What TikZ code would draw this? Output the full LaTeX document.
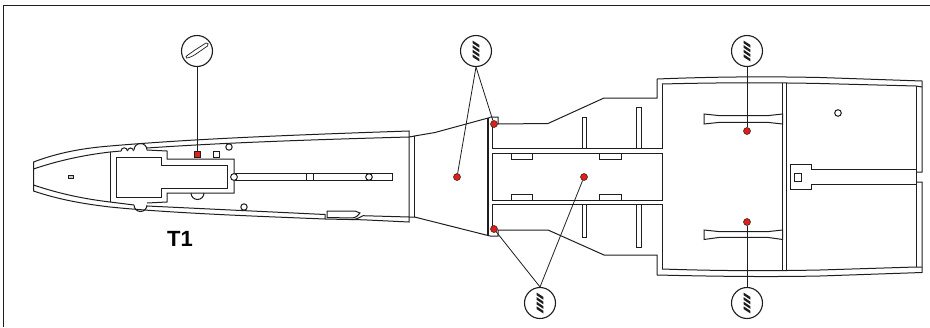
\documentclass[tikz,border=0pt]{standalone}
\usepackage{fontspec}
\setmainfont{Liberation Sans}
\usetikzlibrary{calc}
\definecolor{markred}{RGB}{224,32,24}
\definecolor{inkline}{RGB}{30,30,30}
\tikzset{
    outline/.style={draw=inkline, line width=1pt, line join=miter},
    leader/.style={draw=inkline, line width=0.8pt},
    iconring/.style={circle, draw=inkline, line width=1.1pt, fill=white, minimum size=31pt, inner sep=0pt},
    reddot/.style={circle, draw=inkline, line width=0.5pt, fill=markred, minimum size=7pt, inner sep=0pt},
    redsquare/.style={rectangle, draw=inkline, line width=0.5pt, fill=markred, minimum size=5.5pt, inner sep=0pt},
    hole/.style={outline, fill=white}
}
% slanted bands of the drill symbol
\newcommand{\drillbands}[1]{
    \foreach \k in {0,1,2,3}
        \fill[inkline] ($(#1)+(-3.4,-10.5+4.6*\k)$) -- ++(6.8,4.5) -- ++(0,2.7) -- ++(-6.8,-4.5) -- cycle;
}
\begin{document}
\begin{tikzpicture}[x=1pt,y=-1pt]
    \useasboundingbox (0,0) rectangle (930,327);

    % frame
    \draw[leader, line width=1pt] (3.5,327) -- (3.5,5.5) -- (930,5.5);

    % nose, outer and inner skin
    \draw[outline] (33.5,191) -- (33.5,162) .. controls (60,152) and (85,148) .. (110,146) .. controls (180,140) and (260,136) .. (409,131) -- (409,222) -- (363,219.8) -- (325,219) .. controls (250,216) and (170,213) .. (110,207) .. controls (85,204) and (60,200) .. cycle;
    \draw[outline] (33.5,169) .. controls (60,160) and (85,155) .. (110,152) -- (121,151) (147,148) .. controls (220,143) and (300,140) .. (409,137) -- (415,136);
    \draw[outline] (33.5,185) .. controls (60,194) and (85,199) .. (110,202) -- (134,205) (147,206) -- (325,214.5) -- (325,219);
    \draw[outline] (363,215.7) -- (409,217) -- (415,217);
    \draw[outline] (110,152) -- (110,202);
    \draw[outline] (414.5,136) -- (414.5,217);

    % small bumps on the upper and lower skin
    \draw[outline] (121,151) arc[start angle=180, end angle=360, radius=3.2];
    \draw[outline] (127.5,151) arc[start angle=180, end angle=360, radius=3];
    \draw[outline] (134,150) arc[start angle=180, end angle=360, radius=6.5];
    \draw[outline] (134,205) arc[start angle=180, end angle=0, radius=6.5];

    % cockpit opening
    \draw[outline] (147,150) -- (167,151) -- (167,159) -- (234,159) -- (234,193) -- (167,193) -- (167,202) -- (147,203);
    \draw[outline] (116,157) -- (161,157) -- (161,165) -- (227,165) -- (227,188) -- (161,188) -- (161,197) -- (116,197) -- cycle;
    \draw[outline] (191,193) arc[start angle=180, end angle=0, radius=6.5];
    \draw[outline, fill=gray!40] (68,175.7) rectangle (73,178.5);

    % rod and holes in the front part
    \draw[outline] (235,173) rectangle (392,180.5);
    \draw[outline] (306,173) -- (306,180.5) (313,173) -- (313,180.5);
    \draw[hole] (234,177) circle (3.4);
    \draw[hole] (369,177) circle (3.3);
    \draw[hole] (229,147) circle (3.2);
    \draw[hole] (244,207) circle (3.2);
    \draw[hole] (213.5,151.5) rectangle (219,157);

    % long slot on the lower skin
    \draw[outline] (327,211) -- (355,211) -- (360,213) .. controls (358,216) and (356,217.5) .. (352,218) -- (327,217.5) -- cycle;
    \draw[outline] (352,219.7) .. controls (358,219) and (360,217) .. (363,215.7);

    % fan between nose and centre part
    \draw[outline] (414.5,136) -- (435,132.5) -- (490,117.5);
    \draw[outline] (414.5,217) -- (490,236);
    \draw[outline, line width=1.2pt] (488,118) -- (488,236);

    % centre part, upper and lower arm
    \draw[outline] (490,117) -- (498,117) -- (498,124) -- (548,123.5) -- (604,98) -- (657,98) -- (657,79);
    \draw[outline] (490,236) -- (498,236) -- (498,230) -- (548,230) -- (604,255) -- (657,255) -- (657,275);
    \draw[outline] (492,124) -- (492,148) -- (662,148) -- (662,84);
    \draw[outline] (492,204) -- (492,230);
    \draw[outline] (492,204) -- (662,204) -- (662,269);
    \draw[outline] (492,153) rectangle (662,200);

    % slats in the centre part
    \draw[outline] (582.5,117) rectangle (586.7,148);
    \draw[outline] (636.7,107) rectangle (641,148);
    \draw[outline] (582.5,204) rectangle (586.7,237);
    \draw[outline] (636.7,204) rectangle (641,247);
    \draw[outline] (511,153) rectangle (532,159);
    \draw[outline] (599,153) rectangle (621,159);
    \draw[outline] (511,194) rectangle (532,200);
    \draw[outline] (599,194) rectangle (621,200);

    % rear part, skin
    \draw[outline] (657,79) .. controls (720,76.5) and (770,76.5) .. (820,77.5) -- (922,81) -- (922,172) -- (916,172);
    \draw[outline] (662,84) .. controls (720,82.5) and (770,82.5) .. (820,83.5) -- (916,86) -- (922,87);
    \draw[outline] (657,275) .. controls (720,276.5) and (770,277) .. (820,276) -- (922,272.5) -- (922,182) -- (916,182);
    \draw[outline] (662,269) .. controls (720,271) and (770,271) .. (820,270) -- (916,267) -- (922,267);
    \draw[outline] (916,86) -- (916,267);
    \draw[outline] (782.7,83) -- (782.7,270) (786.7,83) -- (786.7,270);

    % flared parts in the rear part
    \draw[outline] (704,114) -- (720,115.7) -- (767,115.7) -- (782.7,114) -- (782.7,124) -- (767,122.3) -- (720,122.3) -- (704,124) -- cycle;
    \draw[outline] (704,230) -- (720,231.7) -- (767,231.7) -- (782.7,230) -- (782.7,239.5) -- (767,237.3) -- (720,237.3) -- (704,239.5) -- cycle;

    % T piece and hole
    \draw[outline] (916,169) -- (811,169) -- (811,164) -- (790,164) -- (790,189) -- (811,189) -- (811,184) -- (916,184);
    \draw[outline] (794,173) rectangle (801.5,181);
    \draw[hole] (838,113) circle (3.3);

    % markings
    \node[redsquare] (cutmark) at (197,154) {};
    \node[reddot] (dotA) at (494,124) {};
    \node[reddot] (dotB) at (457,177) {};
    \node[reddot] (dotC) at (494,229) {};
    \node[reddot] (dotD) at (584,177) {};
    \node[reddot] (dotE) at (747,131) {};
    \node[reddot] (dotF) at (747,222) {};

    % symbols
    \node[iconring] (knife) at (197,51) {};
    \node[iconring] (drillA) at (476,51) {};
    \node[iconring] (drillB) at (540,303) {};
    \node[iconring] (drillC) at (747,51) {};
    \node[iconring] (drillD) at (747,303) {};
    \draw[outline, line width=0.7pt, fill=white] (186,56.5) .. controls (190,53) and (193,52) .. (195,50) -- (206,43) .. controls (208,42.5) and (209,44) .. (207.5,46) -- (196,54) .. controls (193,56) and (189,58) .. (186.5,58) -- cycle;
    \drillbands{drillA}
    \drillbands{drillB}
    \drillbands{drillC}
    \drillbands{drillD}

    % leaders
    \draw[leader] (knife) -- (cutmark);
    \draw[leader] (drillA.south) -- (dotA);
    \draw[leader] (drillA.south) -- (dotB);
    \draw[leader] (drillB.north) -- (dotC);
    \draw[leader] (drillB.north) -- (dotD);
    \draw[leader] (drillC) -- (dotE);
    \draw[leader] (drillD) -- (dotF);

    % label
    \node[font=\fontsize{22}{22}\selectfont\bfseries] (partlabel) at (180,238.5) {T1};
\end{tikzpicture}
\end{document}
